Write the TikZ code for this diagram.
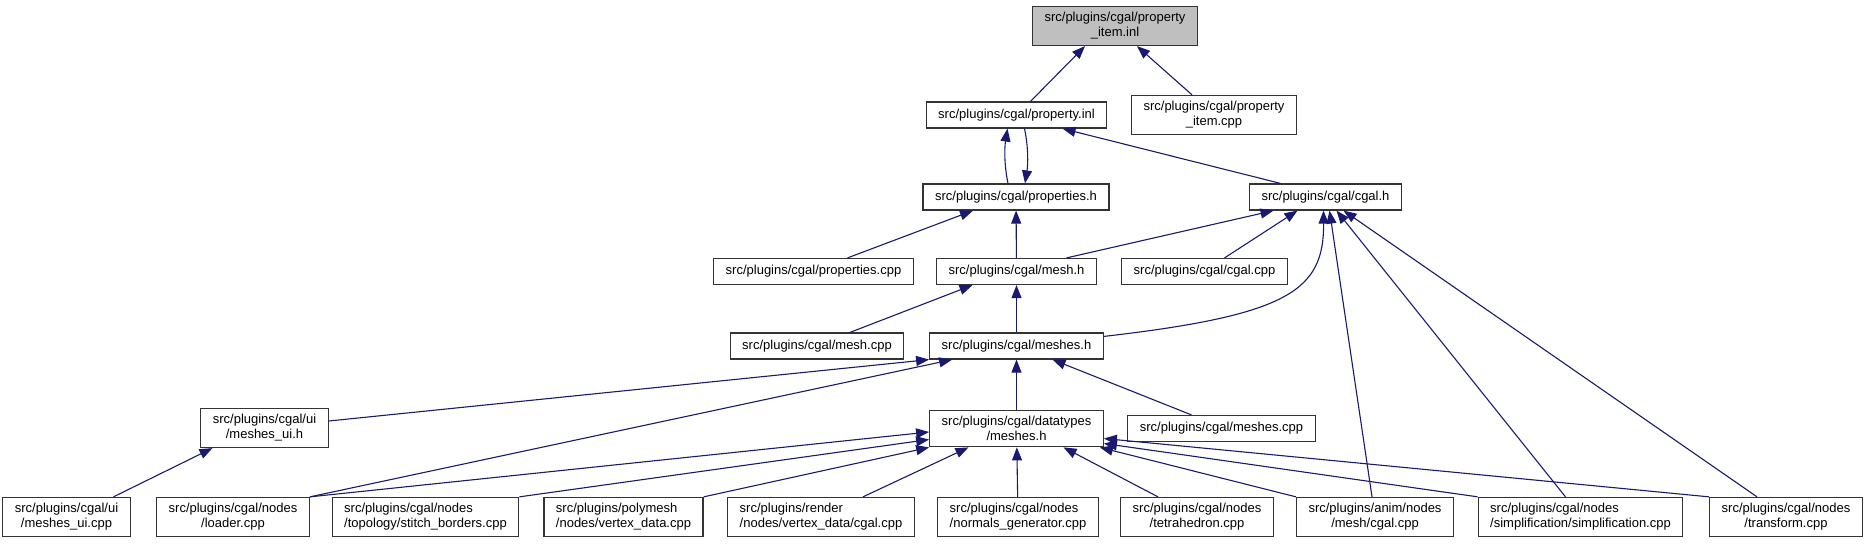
\documentclass[tikz,border=0pt]{standalone}
\usepackage{fontspec}
\setmainfont{Liberation Sans}
\usepackage{tikz}
\usetikzlibrary{arrows.meta}
\definecolor{midnight}{RGB}{25,25,112}

\begin{document}
\begin{tikzpicture}[x=1pt,y=-1pt,
  file/.style={draw=black!80,line width=1.2pt,fill=white,inner xsep=12pt,inner ysep=6pt,
    minimum height=26pt,font=\fontsize{13}{15}\selectfont,align=center},
  this/.style={file,fill=black!25},
  dep/.style={draw=midnight,line width=1.1pt,-{Triangle[length=13pt,width=10pt]}}]
  \useasboundingbox (0,0) rectangle (1867,544);

  % Top rows
  \node[this] (itemInl) at (1115,26) {src/plugins/cgal/property\\\_item.inl};
  \node[file] (propInl) at (1016.5,115) {src/plugins/cgal/property.inl};
  \node[file] (itemCpp) at (1214,115) {src/plugins/cgal/property\\\_item.cpp};
  \node[file] (propsH) at (1016,197) {src/plugins/cgal/properties.h};
  \node[file] (cgalH) at (1325.5,197) {src/plugins/cgal/cgal.h};
  \node[file] (propsCpp) at (813.5,271.5) {src/plugins/cgal/properties.cpp};
  \node[file] (meshH) at (1016.5,271.5) {src/plugins/cgal/mesh.h};
  \node[file] (cgalCpp) at (1204.5,271.5) {src/plugins/cgal/cgal.cpp};
  \node[file] (meshCpp) at (817,346) {src/plugins/cgal/mesh.cpp};
  \node[file] (meshesH) at (1016.5,346) {src/plugins/cgal/meshes.h};
  \node[file] (uiH) at (264.5,428) {src/plugins/cgal/ui\\/meshes\_ui.h};
  \node[file] (dtMeshesH) at (1016.5,428.5) {src/plugins/cgal/datatypes\\/meshes.h};
  \node[file] (meshesCpp) at (1221.5,428.5) {src/plugins/cgal/meshes.cpp};

  % Bottom row
  \node[file] (uiCpp) at (66.5,517) {src/plugins/cgal/ui\\/meshes\_ui.cpp};
  \node[file] (loaderCpp) at (233,517) {src/plugins/cgal/nodes\\/loader.cpp};
  \node[file,align=left] (stitchCpp) at (425.5,517) {src/plugins/cgal/nodes\\/topology/stitch\_borders.cpp};
  \node[file,align=left] (vertexCpp) at (623.5,517) {src/plugins/polymesh\\/nodes/vertex\_data.cpp};
  \node[file,align=left] (renderCpp) at (821,517) {src/plugins/render\\/nodes/vertex\_data/cgal.cpp};
  \node[file,align=left] (normalsCpp) at (1018,517) {src/plugins/cgal/nodes\\/normals\_generator.cpp};
  \node[file] (tetraCpp) at (1197,517) {src/plugins/cgal/nodes\\/tetrahedron.cpp};
  \node[file] (animCpp) at (1375,517) {src/plugins/anim/nodes\\/mesh/cgal.cpp};
  \node[file,align=left] (simplCpp) at (1580.5,517) {src/plugins/cgal/nodes\\/simplification/simplification.cpp};
  \node[file] (transformCpp) at (1786,517) {src/plugins/cgal/nodes\\/transform.cpp};

  % Includes of the top headers
  \draw[dep] ([xshift=14pt]propInl.north) -- ([xshift=-30pt]itemInl.south);
  \draw[dep] ([xshift=-22pt]itemCpp.north) -- ([xshift=22pt]itemInl.south);
  \draw[dep] ([xshift=-8pt]propsH.north) .. controls +(-4,-19) and +(-3,19) .. ([xshift=-9pt]propInl.south);
  \draw[dep] ([xshift=8pt]propInl.south) .. controls +(4,19) and +(3,-19) .. ([xshift=9pt]propsH.north);
  \draw[dep] ([xshift=-45pt]cgalH.north) -- ([xshift=46pt]propInl.south);
  \draw[dep] ([xshift=34pt]propsCpp.north) -- ([xshift=-43pt]propsH.south);
  \draw[dep] (meshH) -- (propsH);
  \draw[dep] ([xshift=50pt]meshH.north) -- ([xshift=-52pt]cgalH.south);
  \draw[dep] ([xshift=20pt]cgalCpp.north) -- ([xshift=-28pt]cgalH.south);
  \draw[dep] ([xshift=33pt]meshCpp.north) -- ([xshift=-44pt]meshH.south);
  \draw[dep] (meshesH) -- (meshH);
  \draw[dep] ([yshift=-4pt]meshesH.north east) .. controls (1290,315) and (1324,290) .. ([xshift=-2pt]cgalH.south);

  % Includes of meshes.h
  \draw[dep] ([xshift=-30pt]meshesCpp.north) -- ([xshift=36pt]meshesH.south);
  \draw[dep] ([yshift=7pt]uiH.east) -- (meshesH.south west);
  \draw[dep] (loaderCpp.north east) -- ([xshift=23pt]meshesH.south west);
  \draw[dep] ([xshift=47pt]uiCpp.north) -- ([xshift=-52pt]uiH.south);
  \draw[dep] (dtMeshesH) -- (meshesH);

  % Includes of datatypes/meshes.h
  \draw[dep] (loaderCpp.north east) -- ([yshift=-3.5pt]dtMeshesH.west);
  \draw[dep] (stitchCpp.north east) -- ([yshift=-11pt]dtMeshesH.west);
  \draw[dep] (vertexCpp.north east) -- (dtMeshesH.south west);
  \draw[dep] ([xshift=42pt]renderCpp.north) -- ([xshift=-48pt]dtMeshesH.south);
  \draw[dep] (normalsCpp) -- (dtMeshesH);
  \draw[dep] ([xshift=-39pt]tetraCpp.north) -- ([xshift=47pt]dtMeshesH.south);
  \draw[dep] (animCpp.north west) -- ([xshift=-4pt]dtMeshesH.south east);
  \draw[dep] (simplCpp.north west) -- ([yshift=-15pt]dtMeshesH.east);
  \draw[dep] (transformCpp.north west) -- ([yshift=-10pt]dtMeshesH.east);

  % Nodes that include cgal.h directly
  \draw[dep] ([xshift=-3pt]animCpp.north) -- ([xshift=4pt]cgalH.south);
  \draw[dep] ([xshift=-15pt]simplCpp.north) -- ([xshift=11pt]cgalH.south);
  \draw[dep] ([xshift=-29pt]transformCpp.north) -- ([xshift=18pt]cgalH.south);
\end{tikzpicture}
\end{document}
